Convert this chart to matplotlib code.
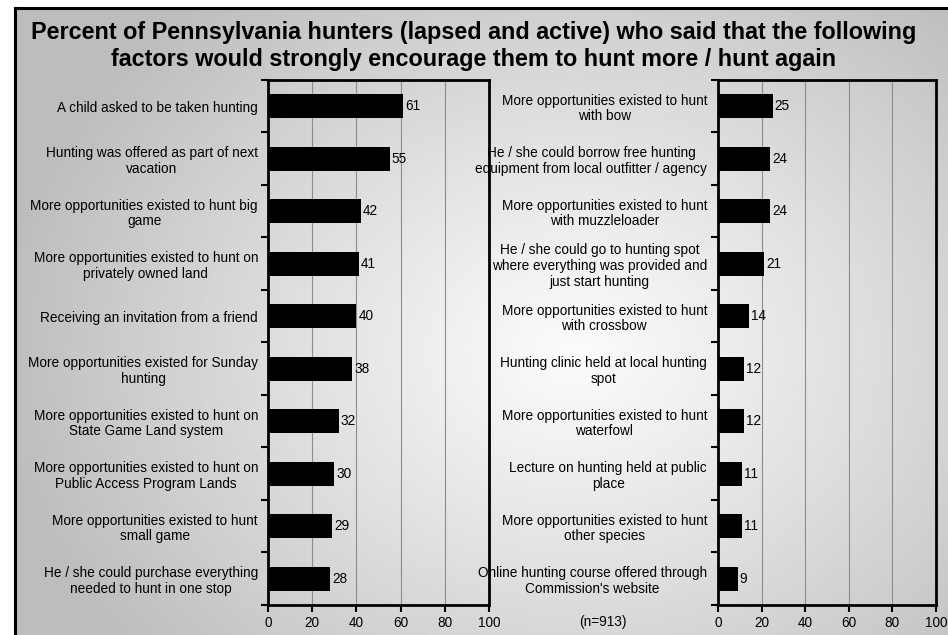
import numpy as np
import matplotlib
matplotlib.use("Agg")
import matplotlib.pyplot as plt
from matplotlib.lines import Line2D
from matplotlib.transforms import blended_transform_factory

plt.rcParams['font.family'] = ['Liberation Sans', 'DejaVu Sans']

title = ("Percent of Pennsylvania hunters (lapsed and active) who said that the following\n"
         "factors would strongly encourage them to hunt more / hunt again")

left_labels = [
    "A child asked to be taken hunting",
    "Hunting was offered as part of next\nvacation",
    "More opportunities existed to hunt big\ngame",
    "More opportunities existed to hunt on\nprivately owned land",
    "Receiving an invitation from a friend",
    "More opportunities existed for Sunday\nhunting",
    "More opportunities existed to hunt on\nState Game Land system",
    "More opportunities existed to hunt on\nPublic Access Program Lands",
    "More opportunities existed to hunt\nsmall game",
    "He / she could purchase everything\nneeded to hunt in one stop",
]
left_values = [61, 55, 42, 41, 40, 38, 32, 30, 29, 28]

right_labels = [
    "More opportunities existed to hunt\nwith bow",
    "He / she could borrow free hunting\nequipment from local outfitter / agency",
    "More opportunities existed to hunt\nwith muzzleloader",
    "He / she could go to hunting spot\nwhere everything was provided and\njust start hunting",
    "More opportunities existed to hunt\nwith crossbow",
    "Hunting clinic held at local hunting\nspot",
    "More opportunities existed to hunt\nwaterfowl",
    "Lecture on hunting held at public\nplace",
    "More opportunities existed to hunt\nother species",
    "Online hunting course offered through\nCommission's website",
]
right_values = [25, 24, 24, 21, 14, 12, 12, 11, 11, 9]

x_ticks = [0, 20, 40, 60, 80, 100]
sample_note = "(n=913)"

W, H = 948, 635
FS = 9.8
fig = plt.figure(figsize=(W / 100, H / 100), dpi=100)
fig.patch.set_facecolor("white")

# soft radial backdrop inside the frame
bg = fig.add_axes([15 / W, 0, 1 - 15 / W, 1 - 8 / H], zorder=-10)
gx, gy = np.meshgrid(np.linspace(0, 1, 400), np.linspace(0, 1, 300))
cx, cy = 0.6, 0.55
d = np.sqrt(((gx - cx) / 0.62) ** 2 + ((gy - cy) / 0.75) ** 2)
t = np.clip(d, 0, 1) ** 1.1
shade = 0.985 * (1 - t) + 0.74 * t
bg.imshow(shade, cmap="gray", vmin=0, vmax=1, extent=[0, 1, 0, 1],
          origin="upper", aspect="auto", interpolation="bilinear")
bg.set_xlim(0, 1)
bg.set_ylim(0, 1)
bg.axis("off")

# frame: only the left and top edges fall inside the canvas
fl, ft = 15 / W, 1 - 8 / H
fig.add_artist(Line2D([fl, fl], [0, ft], color="black", linewidth=2.2,
                      transform=fig.transFigure))
fig.add_artist(Line2D([fl, 1], [ft, ft], color="black", linewidth=2.2,
                      transform=fig.transFigure))

fig.text(0.5, 1 - 46 / H, title, ha="center", va="center", fontsize=16.85,
         fontweight="bold", linespacing=1.27)


def panel(rect, labels, values):
    ax = fig.add_axes(rect)
    ax.patch.set_alpha(0)
    n = len(values)
    pos = np.arange(n)
    ax.barh(pos, values, height=0.45, color="black", zorder=3)
    ax.set_xlim(0, 100)
    ax.set_ylim(n - 0.5, -0.5)
    ax.set_xticks(x_ticks)
    ax.set_xticklabels([str(v) for v in x_ticks], fontsize=FS)
    ax.tick_params(axis="x", direction="out", length=5, width=1.5, pad=3)
    ax.set_yticks(pos)
    ax.set_yticklabels(labels, fontsize=FS, ha="center", multialignment="center",
                       linespacing=1.15)
    ax.tick_params(axis="y", which="major", length=0, pad=0)
    ax.set_yticks(np.arange(n + 1) - 0.5, minor=True)
    ax.tick_params(axis="y", which="minor", direction="out", length=5, width=1.5)
    for sp in ax.spines.values():
        sp.set_linewidth(2)
        sp.set_color("black")
    for v in x_ticks[1:-1]:
        ax.axvline(v, color="#8c8c8c", linewidth=0.8, zorder=1)
    for p, v in zip(pos, values):
        ax.text(v + 1, p, str(v), va="center", ha="left", fontsize=FS, zorder=4)
    return ax


axL = panel([268 / W, 1 - 605 / H, 221 / W, 525 / H], left_labels, left_values)
axR = panel([718 / W, 1 - 605 / H, 218 / W, 525 / H], right_labels, right_values)

# center the multi-line labels in their column, right edge near the axis
fig.canvas.draw()
r = fig.canvas.get_renderer()
for ax, right_edge in ((axL, 258), (axR, 707)):
    for lab in ax.get_yticklabels():
        bb = lab.get_window_extent(r)
        x_center_px = right_edge - bb.width / 2
        xd, _ = ax.transAxes.inverted().transform((x_center_px, 0))
        lab.set_x(xd)
        lab.set_transform(blended_transform_factory(ax.transAxes, ax.transData))
        lab.set_horizontalalignment("center")

fig.text(603 / W, 1 - 622 / H, sample_note, ha="center", va="center", fontsize=FS)

fig.savefig("out.png", dpi=100, facecolor=fig.get_facecolor())
